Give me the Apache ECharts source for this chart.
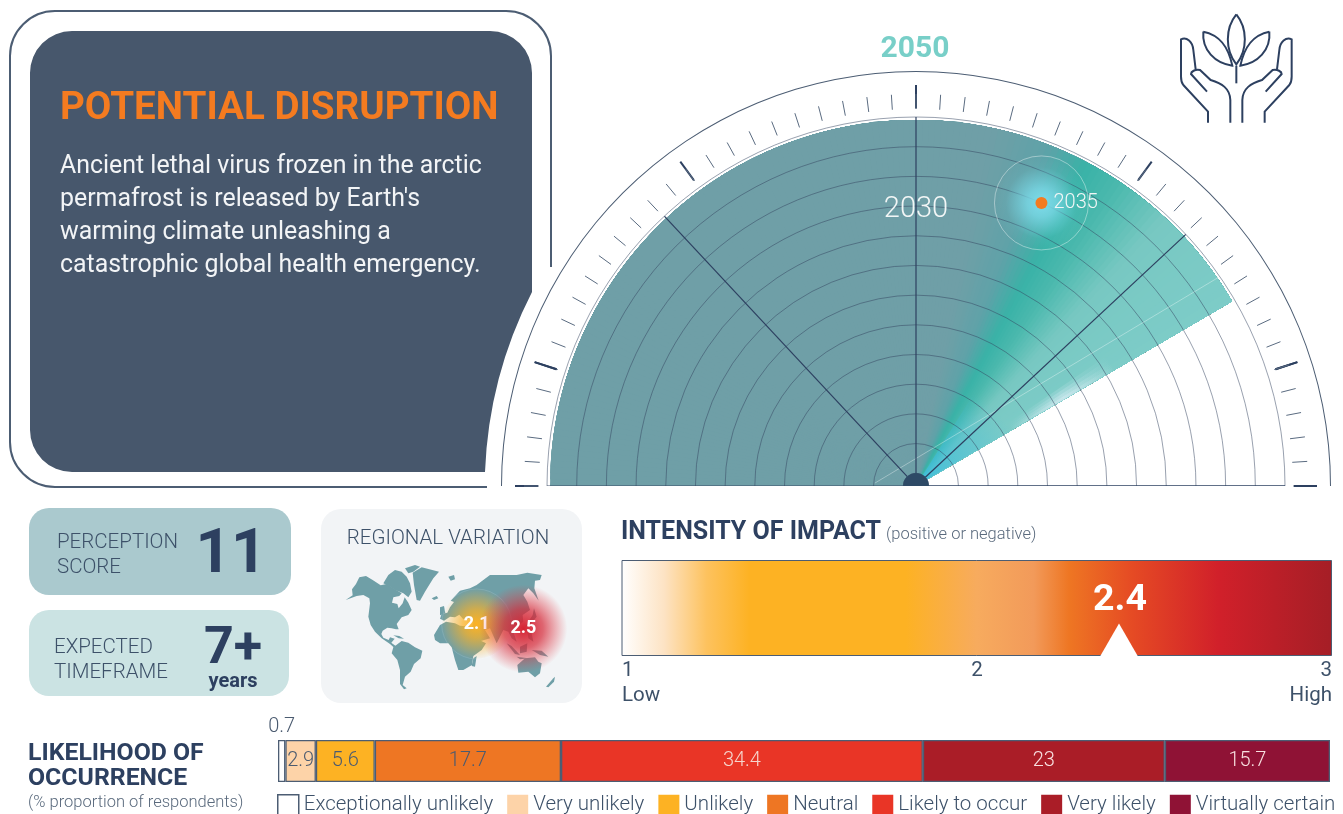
<!DOCTYPE html>
<html>
<head>
<meta charset="utf-8">
<title>Potential disruption</title>
<style>
  html, body { margin: 0; padding: 0; background: #fff; }
  #main { width: 1343px; height: 814px; }
</style>
<script src="https://cdn.jsdelivr.net/npm/echarts@6/dist/echarts.min.js"></script>
</head>
<body>
<div id="main"></div>
<script>
// likelihood of occurrence
var likelihoodNames = ['Exceptionally unlikely', 'Very unlikely', 'Unlikely', 'Neutral', 'Likely to occur', 'Very likely', 'Virtually certain'];
var likelihoodValues = [0.7, 2.9, 5.6, 17.7, 34.4, 23, 15.7];
var likelihoodColors = ['#ffffff', '#fdd3a8', '#fdb223', '#ee7623', '#e93526', '#aa1d27', '#8f1235'];
var likelihoodLabelColors = ['#4b5b70', '#4b5b70', '#4b5b70', '#4b5b70', '#f6d5cc', '#f8e0e0', '#f8e0e0'];

// intensity of impact
var intensityScore = 2.4;
var intensityRange = [1, 3];
var intensityTicks = { 1: '1\nLow', 2: '2\n ', 3: '3\nHigh' };

// radar
var ringYears = [1985, 2045];
var spokeAngles = [47, 90, 137];
var baseAngles = [0, 180];
var sweepRange = [0, 149.7];
var sweepAngles = [0, 102, 111, 118, 124, 133, 150];
var sweepColors = ['#6f9fa7', '#6f9fa7', '#5fa2a8', '#39b2a7', '#4bb9ae', '#78c8c2', '#7dccc8'];
var pointYear = 2035;
var pointAngle = 113.9;
var scaleYear = 2030;
var chordPoints = [[1989.8, 4], [2044.7, 145.4]];

// regional variation
var regionValues = [2.1, 2.5];
var regionPoints = [[470, -357], [610, -371]];

// rough coastlines in two sheets
var westOutlines = {
  northAmerica: [[17,120],[38,106],[36,88],[48,72],[58,52],[78,48],[98,60],[122,76],[140,72],[160,85],[185,100],[178,108],[160,112],[156,128],[172,132],[176,145],[188,130],[194,112],[205,128],[215,150],[205,165],[185,172],[170,192],[176,208],[168,208],[155,205],[142,203],[128,212],[124,222],[130,233],[146,240],[150,232],[164,236],[154,248],[172,262],[166,266],[150,252],[125,235],[105,215],[92,195],[85,170],[90,130],[88,115],[70,105],[50,108]],
  arctic: [[130,70],[145,45],[165,30],[185,35],[200,50],[210,70],[215,95],[205,112],[190,100],[165,90],[150,80]],
  ellesmere: [[195,25],[225,15],[240,20],[220,35],[205,40]],
  greenland: [[218,38],[245,22],[297,35],[280,55],[255,95],[240,122],[230,120],[222,75]],
  iceland: [[275,115],[290,108],[295,115],[282,120]],
  svalbard: [[325,50],[342,45],[345,58],[332,62]],
  cuba: [[160,226],[178,228],[192,236],[176,235]],
  southAmerica: [[160,262],[185,243],[205,248],[225,262],[247,272],[242,295],[222,312],[212,335],[195,350],[188,375],[200,385],[192,388],[180,372],[180,330],[172,300],[155,280]]
};
var eastOutlines = {
  africa: [[-18,225],[0,195],[18,185],[45,190],[60,197],[95,200],[105,212],[118,240],[138,250],[125,270],[100,288],[96,315],[70,330],[55,330],[45,300],[35,262],[25,250],[0,250],[-15,240]],
  madagascar: [[100,295],[110,288],[105,320],[95,318]],
  eurasia: [[0,176],[5,162],[22,158],[30,142],[42,126],[32,122],[60,92],[90,85],[110,75],[130,60],[150,45],[190,45],[230,45],[262,38],[305,45],[300,60],[285,62],[283,85],[296,122],[280,100],[265,85],[250,105],[262,125],[270,150],[248,165],[250,185],[230,200],[220,215],[230,245],[215,235],[205,215],[190,210],[170,250],[150,205],[135,210],[150,235],[115,245],[95,205],[100,190],[98,176],[70,178],[58,164],[45,172],[30,170],[12,182]],
  uk: [[0,142],[12,138],[16,160],[0,166]],
  japan: [[282,145],[290,170],[270,195],[255,200],[278,165]],
  sumatra: [[200,250],[215,258],[240,285],[225,282]],
  java: [[230,290],[265,295],[240,298]],
  borneo: [[240,260],[262,250],[260,275],[240,280]],
  philippines: [[262,215],[275,220],[280,245],[265,235]],
  newGuinea: [[275,270],[305,272],[325,290],[300,285]],
  australia: [[232,315],[255,295],[285,292],[295,305],[305,310],[300,340],[285,352],[265,335],[235,338]],
  newZealand: [[318,380],[340,355],[345,350],[342,365],[325,382]]
};

function outlineFeatures(outlines, ox, oy) {
  return Object.keys(outlines).map(function (name) {
    var ring = outlines[name].concat([outlines[name][0]]).map(function (p) { return [p[0] + ox, -(p[1] + oy)]; });
    return { type: 'Feature', properties: { name: name }, geometry: { type: 'Polygon', coordinates: [ring] } };
  });
}
echarts.registerMap('world', {
  type: 'FeatureCollection',
  features: outlineFeatures(westOutlines, 60, 165).concat(outlineFeatures(eastOutlines, 360, 165))
});

var navy = '#2d4060';
var slate = '#47576c';
var lineGrey = '#4c5d73';
var FONT = 'Roboto';

function sweepColor(v) {
  for (var i = 1; i < sweepAngles.length; i++) {
    if (v <= sweepAngles[i]) {
      var t = (v - sweepAngles[i - 1]) / (sweepAngles[i] - sweepAngles[i - 1]);
      return echarts.color.lerp(t, [sweepColors[i - 1], sweepColors[i]]);
    }
  }
  return sweepColors[sweepColors.length - 1];
}

// panels and the icon, all in page pixels
function renderPanels() {
  var leaf = 'M1009,43 C975,85 975,150 1009,193 C1043,150 1043,85 1009,43';
  var sideLeaf = 'M910,95 C960,105 985,140 997,197 C945,190 905,150 910,95';
  var hand = 'M924,368 L924,335 L850,255 C842,245 843,240 843,225 L843,118 C860,110 878,125 880,150 L887,208';
  var thumb = 'M921,275 L873,222 C873,215 885,207 900,210 L932,240 C965,250 990,265 991,300 L991,368';
  var iconStyle = { fill: 'none', stroke: navy, lineWidth: 6 };
  function side() {
    return [sideLeaf, hand, thumb].map(function (d) {
      return { type: 'path', shape: { pathData: d }, style: iconStyle };
    });
  }
  return {
    type: 'group',
    children: [
      {
        type: 'path',
        shape: { pathData: 'M72,31 L490,31 A42,42 0 0 1 532,73 L532,292 A431,431 0 0 0 485,472 L72,472 A42,42 0 0 1 30,430 L30,73 A42,42 0 0 1 72,31 Z' },
        style: { fill: slate }
      },
      {
        type: 'path',
        shape: { pathData: 'M487,487 L55,487 A45,45 0 0 1 10,442 L10,56 A45,45 0 0 1 55,11 L506,11 A45,45 0 0 1 551,56 L551,267' },
        style: { fill: 'none', stroke: lineGrey, lineWidth: 2 }
      },
      {
        type: 'group', x: 900, y: 0, scaleX: 1 / 3, scaleY: 1 / 3,
        children: [
          { type: 'path', shape: { pathData: leaf }, style: iconStyle },
          { type: 'path', shape: { pathData: 'M1009,197 L1009,250' }, style: iconStyle },
          { type: 'group', children: side() },
          { type: 'group', x: 2018, scaleX: -1, children: side() }
        ]
      }
    ]
  };
}

// the radar sweep: flat teal turning to the bright band, with soft glows on top
function renderSweep(params, api) {
  var sys = params.coordSys;
  var cx = sys.cx, cy = sys.cy;
  var rFill = sys.r - 3;
  function angle(v) {
    var p = api.coord([ringYears[1], v]);
    var a = Math.atan2(p[1] - cy, p[0] - cx);
    return a > 0 ? a - 2 * Math.PI : a;
  }
  var start = api.value(0), end = api.value(1);
  var children = [];
  // each step paints from its own angle to the end, so no seams show between steps
  for (var v = start; v < end; v += 1) {
    children.push({
      type: 'sector',
      shape: { cx: cx, cy: cy, r: rFill, r0: 0, startAngle: angle(v), endAngle: angle(end), clockwise: true },
      style: { fill: sweepColor(v + 0.5) }
    });
  }
  // cyan near the centre
  children.push({
    type: 'sector',
    shape: { cx: cx, cy: cy, r: 110, r0: 0, startAngle: angle(122), endAngle: angle(end), clockwise: true },
    style: {
      fill: new echarts.graphic.RadialGradient(cx, cy, 110, [
        { offset: 0, color: 'rgba(60,190,220,0.95)' },
        { offset: 1, color: 'rgba(60,190,220,0)' }
      ], true)
    }
  });
  // pale fringe on the leading edge
  [[end - 4, 0.18], [end - 3, 0.25], [end - 2, 0.3], [end - 1, 0.35]].forEach(function (f) {
    children.push({
      type: 'sector',
      shape: { cx: cx, cy: cy, r: rFill, r0: 0, startAngle: angle(f[0]), endAngle: angle(end), clockwise: true },
      style: {
        fill: new echarts.graphic.RadialGradient(cx, cy, rFill, [
          { offset: 0.3, color: 'rgba(225,240,248,0)' },
          { offset: 0.47, color: 'rgba(225,240,248,' + f[1] + ')' },
          { offset: 0.63, color: 'rgba(225,240,248,0)' }
        ], true)
      }
    });
  });
  return { type: 'group', children: children };
}

function renderHub(params, api) {
  var sys = params.coordSys;
  return {
    type: 'sector',
    shape: { cx: sys.cx, cy: sys.cy, r: 13, r0: 0, startAngle: Math.PI, endAngle: 2 * Math.PI, clockwise: true },
    style: { fill: '#2e4a66' }
  };
}

function text(x, y, s, size, weight, color, align) {
  return {
    type: 'text', x: x, y: y, z: 10,
    style: {
      text: s, fontFamily: FONT, fontSize: size, fontWeight: weight, fill: color,
      align: align || 'left', verticalAlign: 'middle'
    }
  };
}

function gaugeTicks(startAngle, endAngle, splits, ticks) {
  return {
    type: 'gauge', center: [916, 486], radius: 392, startAngle: startAngle, endAngle: endAngle,
    min: 0, max: 100, splitNumber: splits, silent: true, z: 3,
    pointer: { show: false }, anchor: { show: false }, progress: { show: false },
    title: { show: false }, detail: { show: false }, axisLabel: { show: false },
    axisLine: { show: false, lineStyle: { width: 0 } },
    axisTick: { splitNumber: ticks, distance: 0, length: 15, lineStyle: { color: '#5a6b80', width: 1 } },
    splitLine: { distance: -9, length: 23, lineStyle: { color: navy, width: 2 } },
    data: []
  };
}

function polarLine(points, color, width) {
  return {
    type: 'line', coordinateSystem: 'polar', symbol: 'none', silent: true, z: 4,
    lineStyle: { color: color, width: width },
    data: points
  };
}
function spoke(a, color, width) {
  return polarLine([[ringYears[0], a], [ringYears[1], a]], color, width);
}

var likelihoodSeries = likelihoodNames.map(function (name, i) {
  return {
    name: name, type: 'bar', stack: 'likelihood', xAxisIndex: 1, yAxisIndex: 1, barWidth: '100%', silent: true,
    itemStyle: { color: likelihoodColors[i], borderColor: lineGrey, borderWidth: 1.3 },
    label: {
      show: true, position: i === 0 ? 'top' : 'inside', distance: 3, fontFamily: FONT, fontWeight: 300, fontSize: 20,
      color: likelihoodLabelColors[i], formatter: String(likelihoodValues[i])
    },
    data: [likelihoodValues[i]]
  };
});

var option = {
  animation: false,
  textStyle: { fontFamily: FONT },
  graphic: {
    elements: [
      { type: 'rect', shape: { x: 29, y: 508, width: 262, height: 87, r: 20 }, style: { fill: '#aac9ce' } },
      { type: 'rect', shape: { x: 29, y: 610, width: 260, height: 86, r: 20 }, style: { fill: '#cbe3e3' } },
      { type: 'rect', shape: { x: 321, y: 509, width: 261, height: 194, r: 20 }, style: { fill: '#f2f4f6' } },
      text(60, 109, 'POTENTIAL DISRUPTION', 38.6, 700, '#f47b20'),
      text(60, 167, 'Ancient lethal virus frozen in the arctic', 24.9, 400, '#f2f4f6'),
      text(60, 200, "permafrost is released by Earth's", 24.9, 400, '#f2f4f6'),
      text(60, 233, 'warming climate unleashing a', 24.9, 400, '#f2f4f6'),
      text(60, 266, 'catastrophic global health emergency.', 24.9, 400, '#f2f4f6'),
      text(915, 49, '2050', 30, 700, '#78cfc8', 'center'),
      text(57, 543, 'PERCEPTION', 20.5, 300, '#3d5169'),
      text(57, 568, 'SCORE', 20.5, 300, '#3d5169'),
      text(231, 556, '11', 62, 700, navy, 'center'),
      text(54, 648, 'EXPECTED', 20.5, 300, '#3d5169'),
      text(54, 673, 'TIMEFRAME', 20.5, 300, '#3d5169'),
      text(233, 650, '7+', 52, 700, navy, 'center'),
      text(233, 682, 'years', 20, 700, navy, 'center'),
      text(448, 539, 'REGIONAL VARIATION', 20.5, 300, '#3d5169', 'center'),
      text(621, 533, 'INTENSITY OF IMPACT', 25, 700, navy),
      text(886, 535, '(positive or negative)', 16.5, 300, '#5a6a7d'),
      text(28, 754, 'LIKELIHOOD OF', 24.8, 700, navy),
      text(28, 779, 'OCCURRENCE', 24.8, 700, navy),
      text(28, 803, '(% proportion of respondents)', 16.5, 300, '#5a6a7d')
    ]
  },
  polar: { center: [916, 486], radius: [12.75, 369] },
  angleAxis: {
    type: 'value', min: 0, max: 180, startAngle: 180, endAngle: 0, clockwise: true,
    axisLine: { show: false }, axisTick: { show: false }, axisLabel: { show: false }, splitLine: { show: false }
  },
  radiusAxis: {
    type: 'value', min: ringYears[0], max: ringYears[1], interval: 5, z: 4,
    axisLine: { show: false }, axisTick: { show: false }, axisLabel: { show: false },
    splitLine: { show: true, lineStyle: { color: 'rgba(52,68,96,0.5)', width: 1 } }
  },
  grid: [
    { left: 622, top: 560, width: 710, height: 96 },
    { left: 278, top: 740, width: 1052, height: 42 }
  ],
  xAxis: [
    {
      type: 'value', gridIndex: 0, min: intensityRange[0], max: intensityRange[1], interval: 1,
      axisLine: { show: false }, axisTick: { show: false }, splitLine: { show: false },
      axisLabel: {
        margin: 2, fontFamily: FONT, fontSize: 20.5, color: '#3d5169', lineHeight: 25,
        alignMinLabel: 'left', alignMaxLabel: 'right',
        formatter: function (v) { return intensityTicks[v]; }
      }
    },
    { type: 'value', gridIndex: 1, min: 0, max: 100, show: false }
  ],
  yAxis: [
    { type: 'category', gridIndex: 0, data: ['impact'], show: false },
    { type: 'category', gridIndex: 1, data: ['share'], show: false }
  ],
  geo: {
    map: 'world', roam: false, silent: true, aspectScale: 1,
    boundingCoords: [[0, 0], [795, -600]],
    layoutCenter: [452.5, 605], layoutSize: 265,
    label: { show: false },
    itemStyle: { areaColor: '#6f9fa7', borderWidth: 0 }
  },
  legend: {
    data: likelihoodNames.map(function (name, i) {
      return { name: name, itemStyle: i === 0 ? { borderColor: lineGrey, borderWidth: 1.5 } : { borderWidth: 0 } };
    }),
    left: 277, top: 794, icon: 'rect', itemWidth: 21, itemHeight: 21, itemGap: 14, padding: 0,
    selectedMode: false,
    textStyle: { fontFamily: FONT, fontWeight: 300, fontSize: 20.5, color: '#3d5169', padding: 0 }
  },
  series: [
    { type: 'custom', coordinateSystem: 'none', renderItem: renderPanels, data: [0], silent: true, z: 1 },

    // radar
    { type: 'custom', coordinateSystem: 'polar', renderItem: renderSweep, data: [sweepRange], silent: true, z: 2 },
    gaugeTicks(162, 18, 4, 10),
    gaugeTicks(180, 162, 1, 5),
    gaugeTicks(18, 0, 1, 5),
    {
      type: 'gauge', center: [916, 486], radius: 415, startAngle: 180, endAngle: 0, silent: true, z: 3,
      pointer: { show: false }, anchor: { show: false }, progress: { show: false },
      title: { show: false }, detail: { show: false }, axisLabel: { show: false },
      axisTick: { show: false }, splitLine: { show: false },
      axisLine: { lineStyle: { width: 1, color: [[1, lineGrey]] } },
      data: []
    },
    polarLine(chordPoints, 'rgba(255,255,255,0.35)', 1),
    spoke(spokeAngles[0], navy, 1.2),
    spoke(spokeAngles[1], navy, 1.2),
    spoke(spokeAngles[2], navy, 1.2),
    spoke(baseAngles[0], 'rgba(52,68,96,0.6)', 1.5),
    spoke(baseAngles[1], navy, 1.5),
    { type: 'custom', coordinateSystem: 'polar', renderItem: renderHub, data: [[ringYears[0], 0]], silent: true, z: 5 },
    {
      type: 'scatter', coordinateSystem: 'polar', silent: true, z: 5, symbolSize: 94,
      itemStyle: {
        opacity: 1, borderColor: 'rgba(255,255,255,0.4)', borderWidth: 1,
        color: new echarts.graphic.RadialGradient(0.5, 0.5, 0.5, [
          { offset: 0, color: 'rgba(125,220,235,1)' },
          { offset: 0.3, color: 'rgba(125,220,235,0.75)' },
          { offset: 0.75, color: 'rgba(125,220,235,0.08)' },
          { offset: 1, color: 'rgba(125,220,235,0)' }
        ])
      },
      data: [[pointYear, pointAngle]]
    },
    {
      type: 'scatter', coordinateSystem: 'polar', silent: true, z: 6, symbolSize: 12,
      itemStyle: { color: '#f47b20', opacity: 1 },
      label: { show: true, position: 'right', distance: 6, fontFamily: FONT, fontWeight: 300, fontSize: 20, color: '#f2f6f6', formatter: String(pointYear) },
      data: [[pointYear, pointAngle]]
    },
    {
      type: 'scatter', coordinateSystem: 'polar', silent: true, z: 6, symbolSize: 0,
      itemStyle: { opacity: 1 },
      label: { show: true, position: 'inside', offset: [0, 4], fontFamily: FONT, fontWeight: 300, fontSize: 29, color: '#f2f6f6', formatter: String(scaleYear) },
      data: [[scaleYear, 90]]
    },

    // regional variation
    {
      type: 'scatter', coordinateSystem: 'geo', silent: true, z: 5, symbolSize: 70,
      itemStyle: {
        opacity: 1, borderColor: 'rgba(255,255,255,0.12)', borderWidth: 1,
        color: new echarts.graphic.RadialGradient(0.5, 0.5, 0.5, [
          { offset: 0, color: 'rgba(253,178,35,1)' },
          { offset: 0.4, color: 'rgba(253,178,35,0.7)' },
          { offset: 1, color: 'rgba(253,178,35,0)' }
        ])
      },
      label: { show: true, position: 'inside', fontFamily: FONT, fontWeight: 700, fontSize: 18, color: '#fff', formatter: String(regionValues[0]) },
      data: [regionPoints[0]]
    },
    {
      type: 'scatter', coordinateSystem: 'geo', silent: true, z: 6, symbolSize: 88,
      itemStyle: {
        opacity: 1,
        color: new echarts.graphic.RadialGradient(0.5, 0.5, 0.5, [
          { offset: 0, color: 'rgba(214,35,50,1)' },
          { offset: 0.45, color: 'rgba(214,40,55,0.7)' },
          { offset: 1, color: 'rgba(230,60,70,0)' }
        ])
      },
      label: { show: true, position: 'inside', fontFamily: FONT, fontWeight: 700, fontSize: 18, color: '#fff', formatter: String(regionValues[1]) },
      data: [regionPoints[1]]
    },

    // intensity bar
    {
      type: 'bar', xAxisIndex: 0, yAxisIndex: 0, barWidth: '100%', silent: true, z: 2,
      itemStyle: {
        borderColor: lineGrey, borderWidth: 1,
        color: new echarts.graphic.LinearGradient(0, 0, 1, 0, [
          { offset: 0, color: '#ffffff' },
          { offset: 0.06, color: '#fde3c4' },
          { offset: 0.12, color: '#fdc25e' },
          { offset: 0.18, color: '#fdb223' },
          { offset: 0.4, color: '#fdb223' },
          { offset: 0.5, color: '#f7ab5e' },
          { offset: 0.58, color: '#f29a5a' },
          { offset: 0.63, color: '#ee7623' },
          { offset: 0.72, color: '#e54a24' },
          { offset: 0.84, color: '#d1202a' },
          { offset: 1, color: '#a51e26' }
        ])
      },
      data: [intensityRange[1]]
    },
    {
      type: 'scatter', xAxisIndex: 0, yAxisIndex: 0, silent: true, z: 3, symbol: 'triangle', symbolSize: [38, 33], symbolOffset: [0, 32],
      itemStyle: { color: '#fff', opacity: 1 },
      data: [[intensityScore, 'impact']]
    },
    {
      type: 'scatter', xAxisIndex: 0, yAxisIndex: 0, silent: true, z: 3, symbolSize: 0,
      itemStyle: { opacity: 1 },
      label: { show: true, position: 'inside', offset: [1, -7], fontFamily: FONT, fontWeight: 700, fontSize: 37.5, color: '#fff', formatter: String(intensityScore) },
      data: [[intensityScore, 'impact']]
    }
  ].concat(likelihoodSeries)
};

var chart = echarts.init(document.getElementById('main'), null, { renderer: 'canvas' });
chart.setOption(option);
</script>
</body>
</html>
